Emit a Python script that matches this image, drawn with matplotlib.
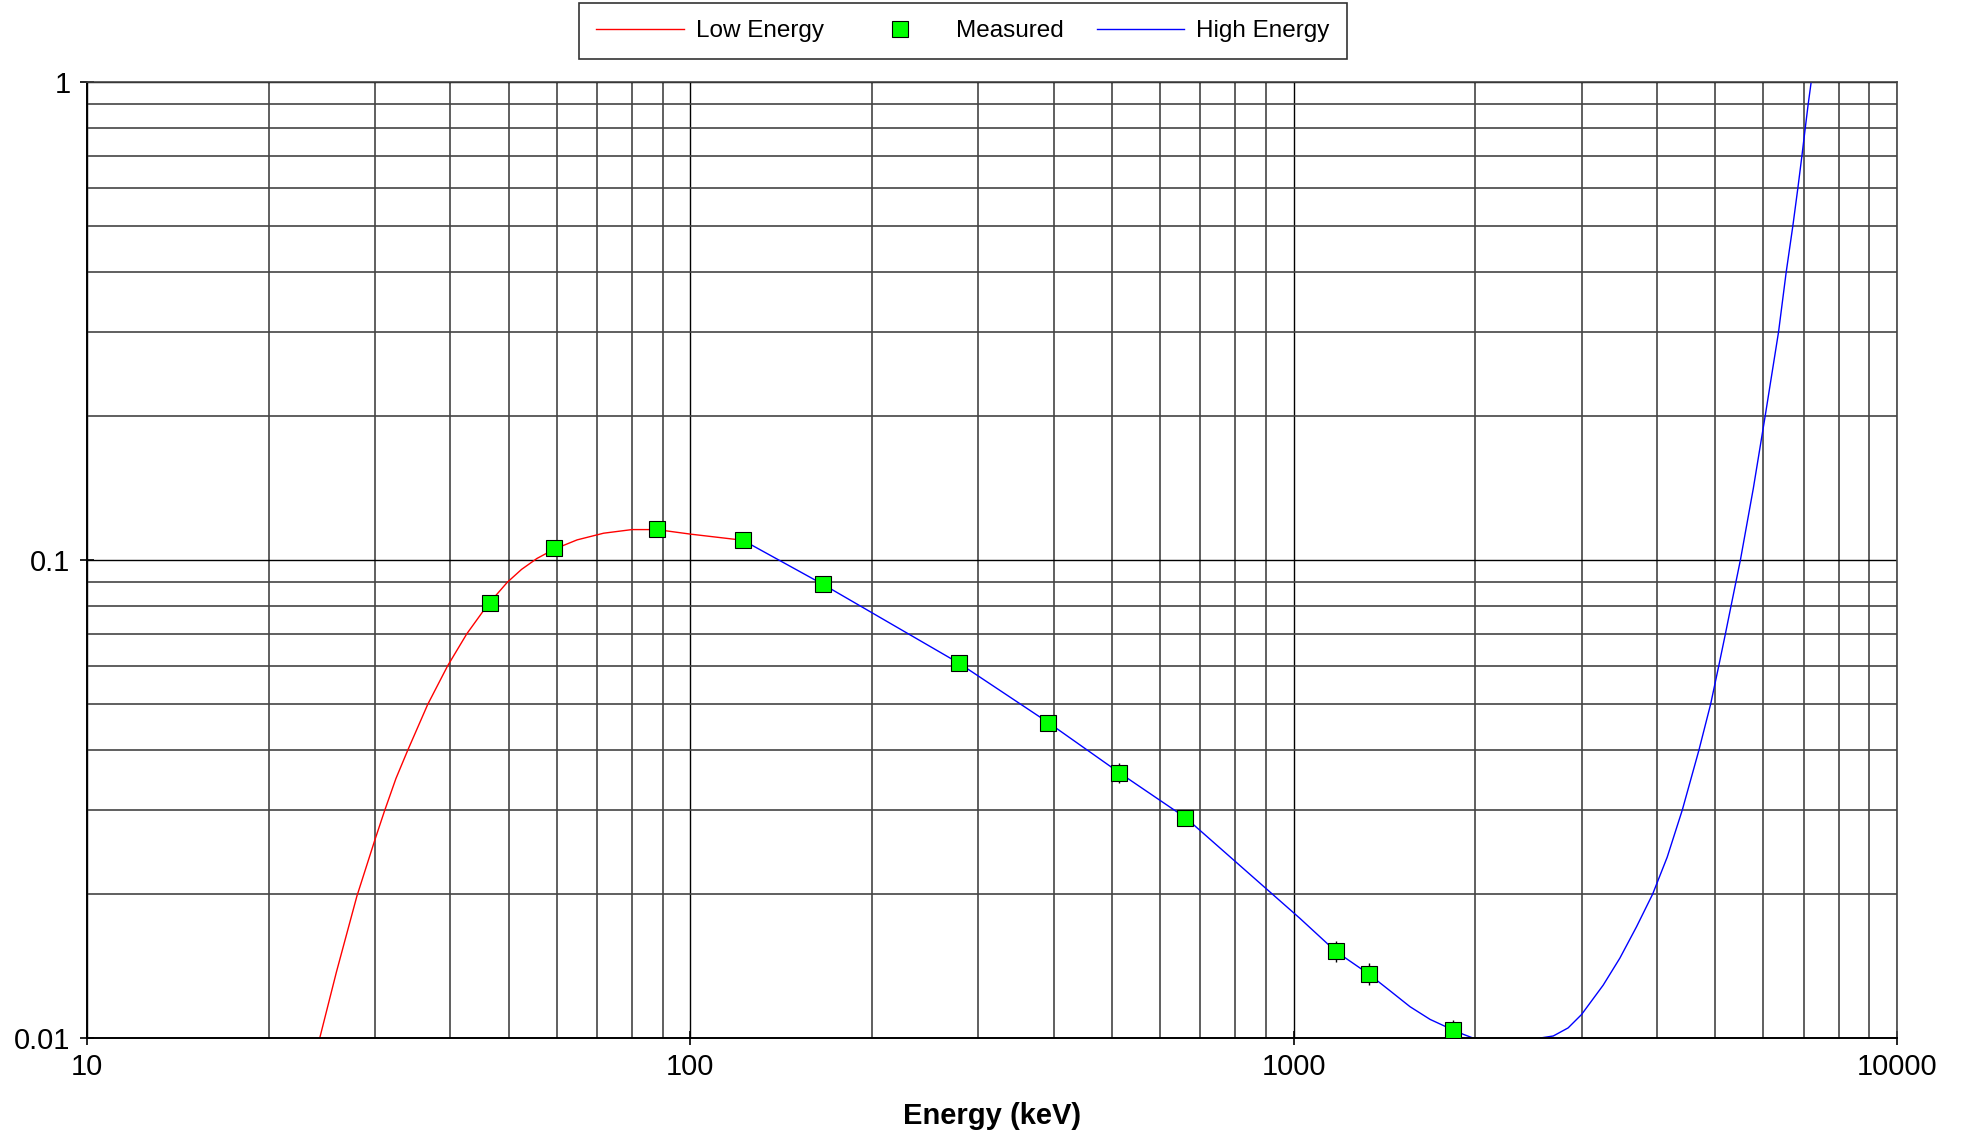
import numpy as np
import matplotlib.pyplot as plt
from matplotlib.ticker import FixedLocator, FuncFormatter, LogLocator, NullFormatter

plt.rcParams['font.family'] = ['Liberation Sans', 'DejaVu Sans']

# -------------------- datos --------------------
# puntos medidos (keV, eficiencia) y error relativo
energia_med = [46.5, 59.5, 88.0, 122.1, 165.9, 279.2, 391.7, 514.0, 661.7, 1173.2, 1332.5, 1836.1]
efic_med = [0.0813, 0.1060, 0.1160, 0.1100, 0.0889, 0.0608, 0.0457, 0.0359, 0.0289, 0.0152, 0.01362, 0.0104]
err_rel = [0.02, 0.02, 0.02, 0.02, 0.02, 0.02, 0.02, 0.048, 0.02, 0.049, 0.053, 0.05]

# curva de baja energia
energia_baja = [24.3, 25.9, 28.0, 30.0, 31.1, 32.5, 34.0, 36.7, 39.6, 42.6, 46.1, 49.7,
                52.5, 55.7, 59.6, 64.9, 71.8, 80.0, 88.0, 100.0, 122.2]
efic_baja = [0.0100, 0.01375, 0.0198, 0.0260, 0.0298, 0.0349, 0.0400, 0.0499, 0.0601, 0.0701,
             0.0805, 0.0898, 0.0956, 0.1008, 0.1055, 0.1102, 0.1138, 0.1158, 0.1158, 0.1133,
             0.1100]

# curva de alta energia
energia_alta = [122.2, 166.0, 279.0, 392.0, 514.0, 662.0, 1024.0, 1173.0, 1333.0, 1444.0,
                1559.0, 1683.0, 1836.0, 1911.0, 1983.0, 2250.0, 2559.0, 2693.0, 2850.0,
                3000.0, 3258.0, 3473.0, 3701.0, 3935.0, 4160.0, 4407.0, 4695.0, 4911.0,
                5064.0, 5194.0, 5301.0, 5403.0, 5501.0, 5780.0, 6046.0, 6363.0, 6551.0,
                6720.0, 6850.0, 6956.0, 7045.0, 7126.0, 7207.0]
efic_alta = [0.1100, 0.0889, 0.0608, 0.0457, 0.0359, 0.0289, 0.0178, 0.0152, 0.01360, 0.01256,
             0.01163, 0.01094, 0.0104, 0.01018, 0.0100, 0.0093, 0.0100, 0.0101, 0.0105,
             0.0112, 0.0129, 0.0147, 0.0171, 0.0200, 0.0239, 0.0300, 0.0400, 0.0500,
             0.0600, 0.0700, 0.0795, 0.0895, 0.1000, 0.1414, 0.200, 0.300, 0.400,
             0.500, 0.600, 0.700, 0.800, 0.900, 1.000]

# -------------------- figura --------------------
fig, ax = plt.subplots(figsize=(19.66, 11.33), dpi=100)
fig.subplots_adjust(left=0.0443, right=0.9649, bottom=0.0838, top=0.9276)

ax.set_xscale('log')
ax.set_yscale('log')
ax.set_xlim(10, 10000)
ax.set_ylim(0.01, 1)

ax.grid(True, which='major', color='black', linewidth=1.0)
ax.grid(True, which='minor', color='#444444', linewidth=1.2)
ax.set_axisbelow(True)

linea_baja, = ax.plot(energia_baja, efic_baja, color='red', linewidth=1.0, label='Low Energy')
linea_alta, = ax.plot(energia_alta, efic_alta, color='blue', linewidth=1.0, label='High Energy')

e = np.array(efic_med)
ax.errorbar(energia_med, efic_med, yerr=e * np.array(err_rel), fmt='none',
            ecolor='black', elinewidth=1.0, capsize=0, zorder=3)
puntos, = ax.plot(energia_med, efic_med, linestyle='none', marker='s', markersize=11,
                  markerfacecolor='#00ff00', markeredgecolor='black', markeredgewidth=0.8,
                  label='Measured', zorder=4)

ax.xaxis.set_major_locator(FixedLocator([10, 100, 1000, 10000]))
ax.yaxis.set_major_locator(FixedLocator([0.01, 0.1, 1]))
ax.xaxis.set_minor_locator(LogLocator(base=10, subs=np.arange(2, 10)))
ax.yaxis.set_minor_locator(LogLocator(base=10, subs=np.arange(2, 10)))
ax.xaxis.set_minor_formatter(NullFormatter())
ax.yaxis.set_minor_formatter(NullFormatter())
fmt = FuncFormatter(lambda v, p: '{:g}'.format(v))
ax.xaxis.set_major_formatter(fmt)
ax.yaxis.set_major_formatter(fmt)

ax.tick_params(which='major', direction='inout', length=10, width=1.2, labelsize=21, color='black')
ax.tick_params(axis='y', which='major', pad=7)
ax.tick_params(axis='x', which='major', pad=6)
ax.tick_params(which='minor', length=0)

for lado in ['left', 'bottom']:
    ax.spines[lado].set_color('black')
    ax.spines[lado].set_linewidth(1.4)
for lado in ['top', 'right']:
    ax.spines[lado].set_color('#444444')
    ax.spines[lado].set_linewidth(1.2)

ax.set_xlabel('Energy (keV)', fontsize=21, fontweight='bold', labelpad=15)

leg = fig.legend(handles=[linea_baja, puntos, linea_alta], loc='upper center',
                 bbox_to_anchor=(0.4898, 0.997), borderaxespad=0, ncol=3, fontsize=17.5,
                 frameon=True, fancybox=False, handlelength=3.6, handletextpad=0.5,
                 columnspacing=1.35, numpoints=1, borderpad=0.7)
leg.get_frame().set_edgecolor('black')
leg.get_frame().set_linewidth(1.2)

plt.savefig('out.png', dpi=100)
